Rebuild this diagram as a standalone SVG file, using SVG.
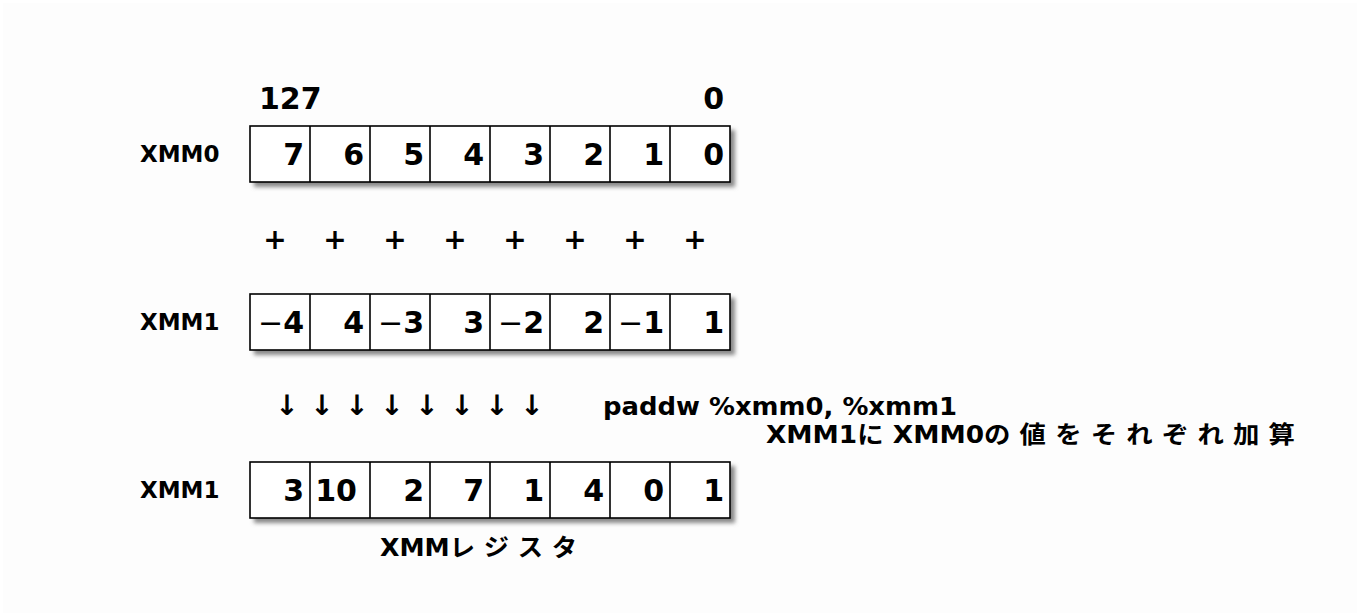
<svg xmlns="http://www.w3.org/2000/svg" width="1360" height="616" viewBox="0 0 1360 616">
<defs>
<filter id="sh" x="-10%" y="-10%" width="130%" height="140%">
<feGaussianBlur stdDeviation="2"/>
</filter>
<g id="row">
<rect x="0" y="0" width="480" height="56" fill="#fff" stroke="#000" stroke-width="1.6"/>
<path d="M60 0V56M120 0V56M180 0V56M240 0V56M300 0V56M360 0V56M420 0V56" stroke="#000" stroke-width="1.6"/>
</g>
</defs>
<style>
text{font-family:"DejaVu Sans","Noto Sans CJK JP",sans-serif;font-weight:bold;fill:#000}
.lbl{font-size:23px}
.num{font-size:30px;text-anchor:end}
.op{font-size:28px;text-anchor:middle}
.mn{font-weight:normal;font-family:"DejaVu Sans",sans-serif}
.shadow{fill:#888;filter:url(#sh)}
</style>
<rect x="0" y="0" width="1360" height="616" fill="#fff"/>
<rect x="3" y="3" width="1354" height="610" fill="#fdfdfd"/>

<g id="xmm0">
<rect class="shadow" x="254" y="130" width="481" height="57"/>
<use href="#row" x="250" y="126"/>
<text class="lbl" x="140" y="162">XMM0</text>
<text class="num" x="304" y="165">7</text>
<text class="num" x="364" y="165">6</text>
<text class="num" x="424" y="165">5</text>
<text class="num" x="484" y="165">4</text>
<text class="num" x="544" y="165">3</text>
<text class="num" x="604" y="165">2</text>
<text class="num" x="664" y="165">1</text>
<text class="num" x="724" y="165">0</text>
</g>

<g id="bits">
<text class="num" style="text-anchor:start" x="259" y="109">127</text>
<text class="num" x="724" y="109">0</text>
</g>

<g id="plus">
<text class="op" x="275" y="249">+</text>
<text class="op" x="335" y="249">+</text>
<text class="op" x="395" y="249">+</text>
<text class="op" x="455" y="249">+</text>
<text class="op" x="515" y="249">+</text>
<text class="op" x="575" y="249">+</text>
<text class="op" x="635" y="249">+</text>
<text class="op" x="695" y="249">+</text>
</g>

<g id="xmm1a">
<rect class="shadow" x="254" y="298" width="481" height="57"/>
<use href="#row" x="250" y="294"/>
<text class="lbl" x="140" y="330">XMM1</text>
<text class="num" x="304" y="333"><tspan class="mn">−</tspan>4</text>
<text class="num" x="364" y="333">4</text>
<text class="num" x="424" y="333"><tspan class="mn">−</tspan>3</text>
<text class="num" x="484" y="333">3</text>
<text class="num" x="544" y="333"><tspan class="mn">−</tspan>2</text>
<text class="num" x="604" y="333">2</text>
<text class="num" x="664" y="333"><tspan class="mn">−</tspan>1</text>
<text class="num" x="724" y="333">1</text>
</g>

<g id="arrows">
<text class="op" x="287" y="415">↓</text>
<text class="op" x="322" y="415">↓</text>
<text class="op" x="357" y="415">↓</text>
<text class="op" x="392" y="415">↓</text>
<text class="op" x="427" y="415">↓</text>
<text class="op" x="462" y="415">↓</text>
<text class="op" x="497" y="415">↓</text>
<text class="op" x="532" y="415">↓</text>
</g>

<g id="desc">
<text x="603" y="415" font-size="24" textLength="354" lengthAdjust="spacingAndGlyphs">paddw %xmm0, %xmm1</text>
<text x="766" y="443" font-size="24" textLength="529" lengthAdjust="spacingAndGlyphs">XMM1に XMM0の 値 を そ れ ぞ れ 加 算</text>
</g>

<g id="xmm1b">
<rect class="shadow" x="254" y="466" width="481" height="57"/>
<use href="#row" x="250" y="462"/>
<text class="lbl" x="140" y="498">XMM1</text>
<text class="num" x="304" y="501">3</text>
<text class="num" x="357" y="501">10</text>
<text class="num" x="424" y="501">2</text>
<text class="num" x="484" y="501">7</text>
<text class="num" x="544" y="501">1</text>
<text class="num" x="604" y="501">4</text>
<text class="num" x="664" y="501">0</text>
<text class="num" x="724" y="501">1</text>
<text x="380" y="556" font-size="24" textLength="197" lengthAdjust="spacingAndGlyphs">XMMレ ジ ス タ</text>
</g>
</svg>
